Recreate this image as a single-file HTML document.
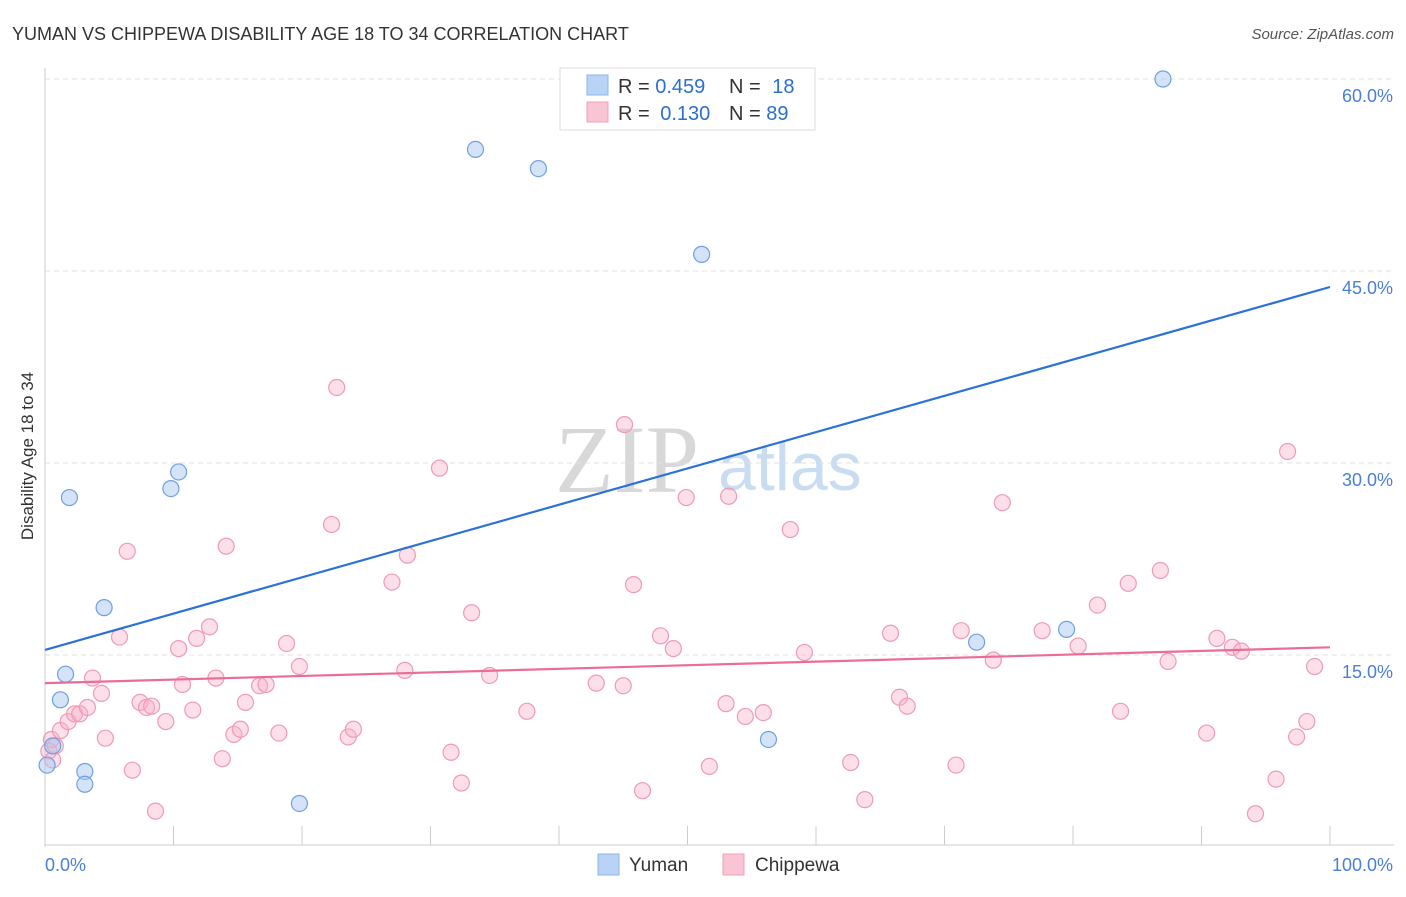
<!DOCTYPE html>
<html><head><meta charset="utf-8"><style>
body{margin:0;background:#fff;font-family:"Liberation Sans",sans-serif}
svg text{font-family:"Liberation Sans",sans-serif}
</style></head><body>
<svg id="chart" width="1406" height="892" xmlns="http://www.w3.org/2000/svg">
<text x="12" y="40" font-size="18" fill="#333">YUMAN VS CHIPPEWA DISABILITY AGE 18 TO 34 CORRELATION CHART</text>
<text x="1394" y="39" font-size="15" fill="#555" text-anchor="end" font-style="italic">Source: ZipAtlas.com</text>
<text transform="translate(33,456) rotate(-90)" font-size="17" fill="#333" text-anchor="middle">Disability Age 18 to 34</text>
<g>
<text x="555" y="492" font-size="96" fill="#d8d8d8" font-family="Liberation Serif" style="font-family:'Liberation Serif',serif">ZIP</text>
<text x="718" y="490" font-size="68" fill="#c8dcf2">atlas</text>
</g>
<g id="grid"></g><g id="axes"></g><g id="marks"></g>
<g>
<rect x="560" y="68" width="255" height="62" fill="#fff" stroke="#ddd"/>
<rect x="587" y="75" width="21" height="20" fill="#b8d3f5" stroke="#8cb4e8"/>
<rect x="587" y="102" width="21" height="20" fill="#f9c4d4" stroke="#f0a0b9"/>
<text x="618" y="93" font-size="20" fill="#333">R = <tspan fill="#2a6fd1">0.459</tspan></text>
<text x="729" y="93" font-size="20" fill="#333">N = <tspan fill="#2a6fd1" dx="6">18</tspan></text>
<text x="618" y="120" font-size="20" fill="#333">R = <tspan fill="#2a6fd1" dx="5">0.130</tspan></text>
<text x="729" y="120" font-size="20" fill="#333">N = <tspan fill="#2a6fd1">89</tspan></text>
</g>
<g>
<rect x="598" y="854" width="21" height="21" fill="#b8d3f5" stroke="#8cb4e8"/>
<text x="629" y="871" font-size="19" fill="#333">Yuman</text>
<rect x="723" y="854" width="21" height="21" fill="#f9c4d4" stroke="#f0a0b9"/>
<text x="755" y="871" font-size="19" fill="#333">Chippewa</text>
</g>
</svg>
<script>
const yTicks=[15,30,45,60];
const yTickLabels=["15.0%","30.0%","45.0%","60.0%"];
const xTickLabels=["0.0%","100.0%"];
const yumanX=[0.16,0.6,1.2,1.6,1.9,3.1,3.1,4.6,9.8,10.4,19.8,33.5,38.4,51.1,56.3,72.5,79.5,87.0];
const yumanY=[6.4,7.9,11.5,13.5,27.3,5.9,4.9,18.7,28.0,29.3,3.4,54.5,53.0,46.3,8.4,16.0,17.0,60.0];
const chipX=[0.3,0.6,0.5,0.8,1.2,1.8,2.3,2.7,3.3,3.7,4.4,4.7,5.8,6.4,6.8,7.4,7.9,8.3,8.6,9.4,10.4,10.7,11.5,11.8,12.8,13.3,13.8,14.1,14.7,15.2,15.6,16.7,17.2,18.2,18.8,19.8,22.3,22.7,23.6,24.0,27.0,28.0,28.2,30.7,31.6,32.4,33.2,34.6,37.5,42.9,45.0,45.1,45.8,46.5,47.9,48.9,49.9,51.7,53.0,53.2,54.5,55.9,58.0,59.1,62.7,63.8,65.8,66.5,67.1,70.9,71.3,73.8,74.5,77.6,80.4,81.9,83.7,84.3,86.8,87.4,90.4,91.2,92.4,93.1,94.2,95.8,96.7,97.4,98.2,98.8];
const chipY=[7.5,6.8,8.4,7.9,9.1,9.8,10.4,10.4,10.9,13.2,12.0,8.5,16.4,23.1,6.0,11.3,10.9,11.0,2.8,9.8,15.5,12.7,10.7,16.3,17.2,13.2,6.9,23.5,8.8,9.2,11.3,12.6,12.7,8.9,15.9,14.1,25.2,35.9,8.6,9.2,20.7,13.8,22.8,29.6,7.4,5.0,18.3,13.4,10.6,12.8,12.6,33.0,20.5,4.4,16.5,15.5,27.3,6.3,11.2,27.4,10.2,10.5,24.8,15.2,6.6,3.7,16.7,11.7,11.0,6.4,16.9,14.6,26.9,16.9,15.7,18.9,10.6,20.6,21.6,14.5,8.9,16.3,15.6,15.3,2.6,5.3,30.9,8.6,9.8,14.1];
const yumanTrend=[15.4,43.75];
const chipTrend=[12.8,15.6];
const NS="http://www.w3.org/2000/svg";
const xs=v=>45+v*12.85, ys=v=>847-v*12.8;
function mk(parent,tag,attrs){const e=document.createElementNS(NS,tag);for(const k in attrs)e.setAttribute(k,attrs[k]);document.getElementById(parent).appendChild(e);return e;}
yTicks.forEach((t,i)=>{
 const g=mk('grid','line',{x1:45,x2:1394,y1:ys(t),y2:ys(t),stroke:'#e2e2e2','stroke-dasharray':'5,4'});
 
 
 const tx=mk('axes','text',{x:1393,y:ys(t)+23,'font-size':18,fill:'#4a7fd4','text-anchor':'end'});
 tx.textContent=yTickLabels[i];
 
 
});
const yl=mk('axes','line',{x1:45,x2:45,y1:68,y2:847,stroke:'#ccc'});


const xl=mk('axes','line',{x1:45,x2:1394,y1:845,y2:845,stroke:'#ccc'});


for(let i=0;i<=10;i++){const t=mk('axes','line',{x1:xs(i*10),x2:xs(i*10),y1:826,y2:845,stroke:'#ccc'});
 
 }
[[0,'start',45],[100,'end',1393]].forEach((d,i)=>{const t=mk('axes','text',{x:d[2],y:871,'font-size':18,fill:'#4a7fd4','text-anchor':d[1]});t.textContent=xTickLabels[i];
 
 });
chipX.forEach((x,i)=>{const c=mk('marks','circle',{cx:xs(x),cy:ys(chipY[i]),r:8,fill:'rgba(247,176,200,0.4)',stroke:'#ef9ab5','stroke-width':1.2});
 
 });
yumanX.forEach((x,i)=>{const c=mk('marks','circle',{cx:xs(x),cy:ys(yumanY[i]),r:8,fill:'rgba(170,200,240,0.5)',stroke:'#6fa0e0','stroke-width':1.2});
 
 });
const l1=mk('marks','line',{x1:xs(0),x2:xs(100),y1:ys(yumanTrend[0]),y2:ys(yumanTrend[1]),stroke:'#2a72d6','stroke-width':2.2});


const l2=mk('marks','line',{x1:xs(0),x2:xs(100),y1:ys(chipTrend[0]),y2:ys(chipTrend[1]),stroke:'#ec6c98','stroke-width':2.2});


</script>
</body></html>
